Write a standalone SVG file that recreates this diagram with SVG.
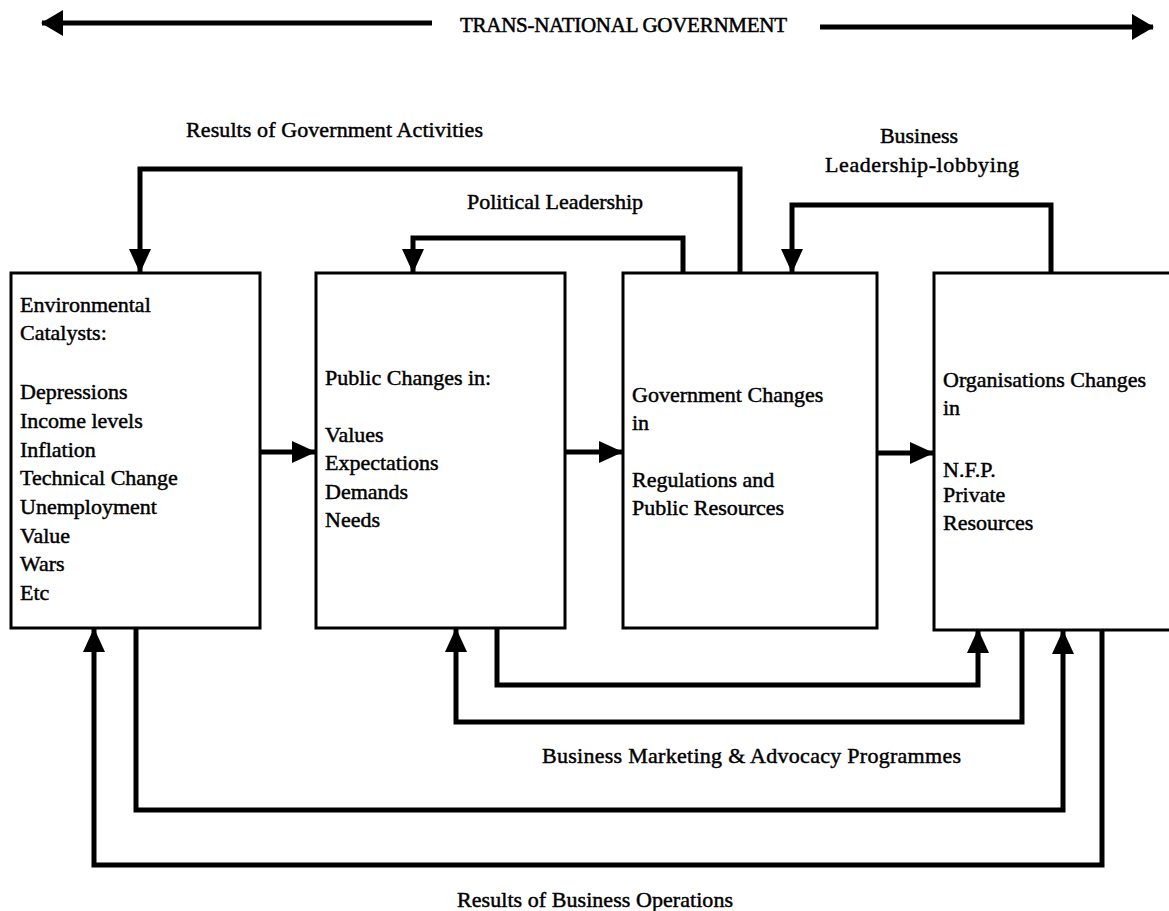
<svg xmlns="http://www.w3.org/2000/svg" width="1169" height="911" viewBox="0 0 1169 911">
<style>
.box{fill:#fff;stroke:#000;stroke-width:3}
.c{fill:none;stroke:#000;stroke-width:5;stroke-linejoin:miter;stroke-linecap:butt}
.t{font-family:"Liberation Serif","Times New Roman",serif;font-size:22px;fill:#000;stroke:#000;stroke-width:0.45}
.lbl{font-family:"Liberation Serif","Times New Roman",serif;font-size:22px;fill:#000;stroke:#000;stroke-width:0.45}
.hdr{font-family:"Liberation Serif","Times New Roman",serif;font-size:21px;fill:#000;stroke:#000;stroke-width:0.5}
</style>
<defs>
<marker id="ah" markerUnits="userSpaceOnUse" viewBox="0 0 24 22" markerWidth="24" markerHeight="22" refX="23" refY="11" orient="auto">
<path d="M0,0 L24,11 L0,22 Z" fill="#000"/>
</marker>
<marker id="ahBig" markerUnits="userSpaceOnUse" viewBox="0 0 22 26" markerWidth="22" markerHeight="26" refX="21" refY="13" orient="auto">
<path d="M0,0 L22,13 L0,26 Z" fill="#000"/>
</marker>
</defs>

<g id="header">
<text class="hdr" x="460" y="32" textLength="327">TRANS-NATIONAL GOVERNMENT</text>
</g>

<g id="connectors">
<path class="c" d="M432,23 H42" marker-end="url(#ahBig)"/>
<path class="c" d="M820,27 H1153" marker-end="url(#ahBig)"/>
<path class="c" d="M740,273 V169 H140 V272" marker-end="url(#ah)"/>
<path class="c" d="M683,273 V238 H413 V272" marker-end="url(#ah)"/>
<path class="c" d="M1051,273 V205 H792 V272" marker-end="url(#ah)"/>
<path class="c" d="M260,452 H315" marker-end="url(#ah)"/>
<path class="c" d="M565,452 H622" marker-end="url(#ah)"/>
<path class="c" d="M877,453 H933" marker-end="url(#ah)"/>
<path class="c" d="M497,628 V685 H978 V630" marker-end="url(#ah)"/>
<path class="c" d="M1022,630 V722 H456 V629" marker-end="url(#ah)"/>
<path class="c" d="M136,628 V810 H1063 V631" marker-end="url(#ah)"/>
<path class="c" d="M1102,630 V865 H94 V629" marker-end="url(#ah)"/>
</g>

<g id="labels">
<text class="lbl" x="186" y="137" textLength="297">Results of Government Activities</text>
<text class="lbl" x="467" y="209" textLength="176">Political Leadership</text>
<text class="lbl" x="919" y="143" text-anchor="middle">Business</text>
<text class="lbl" x="825" y="172" textLength="194">Leadership-lobbying</text>
<text class="lbl" x="542" y="763" textLength="419">Business Marketing &amp; Advocacy Programmes</text>
<text class="lbl" x="457" y="907" textLength="276">Results of Business Operations</text>
</g>

<g id="environmental-catalysts">
<rect class="box" x="11" y="273" width="249" height="355"/>
<text class="t" x="20" y="312">Environmental</text>
<text class="t" x="20" y="340">Catalysts:</text>
<text class="t" x="20" y="399">Depressions</text>
<text class="t" x="20" y="428">Income levels</text>
<text class="t" x="20" y="457">Inflation</text>
<text class="t" x="20" y="485">Technical Change</text>
<text class="t" x="20" y="514">Unemployment</text>
<text class="t" x="20" y="543">Value</text>
<text class="t" x="20" y="571">Wars</text>
<text class="t" x="20" y="600">Etc</text>
</g>

<g id="public-changes">
<rect class="box" x="316" y="273" width="249" height="355"/>
<text class="t" x="325" y="385">Public Changes in:</text>
<text class="t" x="325" y="442">Values</text>
<text class="t" x="325" y="470">Expectations</text>
<text class="t" x="325" y="499">Demands</text>
<text class="t" x="325" y="527">Needs</text>
</g>

<g id="government-changes">
<rect class="box" x="623" y="273" width="254" height="355"/>
<text class="t" x="632" y="402">Government Changes</text>
<text class="t" x="632" y="430">in</text>
<text class="t" x="632" y="487">Regulations and</text>
<text class="t" x="632" y="515">Public Resources</text>
</g>

<g id="organisations-changes">
<rect class="box" x="934" y="273" width="260" height="357"/>
<text class="t" x="943" y="387">Organisations Changes</text>
<text class="t" x="943" y="415">in</text>
<text class="t" x="943" y="477">N.F.P.</text>
<text class="t" x="943" y="502">Private</text>
<text class="t" x="943" y="530">Resources</text>
</g>
</svg>
